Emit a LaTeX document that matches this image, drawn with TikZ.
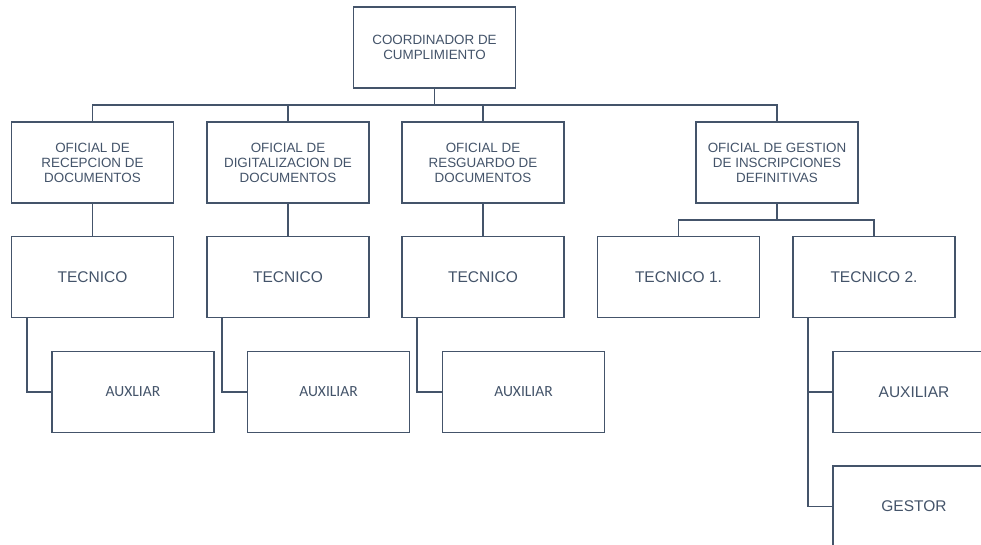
\documentclass[tikz,border=0pt]{standalone}
\usepackage{fontspec}
\setmainfont{Liberation Sans}
\newfontfamily\carlito{Carlito}
\definecolor{orgline}{HTML}{44546A}
\tikzset{
  orgbox/.style={draw=orgline, line width=1.6pt, fill=white, text=orgline,
    minimum width=162pt, minimum height=81pt, inner sep=0pt, align=center,
    font=\fontsize{15.5}{17}\selectfont},
  titlebox/.style={orgbox, font=\fontsize{13.4}{15}\selectfont},
  auxbox/.style={orgbox, font=\carlito\fontsize{15.5}{17}\selectfont},
  link/.style={draw=orgline, line width=1.6pt}
}
\begin{document}
\begin{tikzpicture}[x=1pt, y=-1pt]
	\useasboundingbox (0,0) rectangle (981,544);
	\clip (0,0) rectangle (981,544);
	\node[titlebox] (coord) at (434.5,47.5) {COORDINADOR DE\\CUMPLIMIENTO};
	\node[titlebox] (ofi1) at (92.5,162.5) {OFICIAL DE\\RECEPCION DE\\DOCUMENTOS};
	\node[titlebox] (ofi2) at (288,162.5) {OFICIAL DE\\DIGITALIZACION DE\\DOCUMENTOS};
	\node[titlebox] (ofi3) at (483,162.5) {OFICIAL DE\\RESGUARDO DE\\DOCUMENTOS};
	\node[titlebox] (ofi4) at (777,162.5) {OFICIAL DE GESTION\\DE INSCRIPCIONES\\DEFINITIVAS};
	\node[orgbox] (tec1) at (92.5,277) {TECNICO};
	\node[orgbox] (tec2) at (288,277) {TECNICO};
	\node[orgbox] (tec3) at (483,277) {TECNICO};
	\node[orgbox] (tec4a) at (678.5,277) {TECNICO 1.};
	\node[orgbox] (tec4b) at (874,277) {TECNICO 2.};
	\node[auxbox] (aux1) at (133,392) {AUXLIAR};
	\node[auxbox] (aux2) at (328.5,392) {AUXILIAR};
	\node[auxbox] (aux3) at (523.5,392) {AUXILIAR};
	\node[orgbox] (aux4) at (914,392) {AUXILIAR};
	\node[orgbox] (gestor) at (914,506.5) {GESTOR};
	% bus lines
	\coordinate (bus) at (0,105);
	\coordinate (subbus) at (0,220);
	\foreach \n in {ofi1,ofi2,ofi3,ofi4}
		\draw[link] (coord.south) |- (bus -| \n.north) -- (\n.north);
	\foreach \n in {tec4a,tec4b}
		\draw[link] (ofi4.south) |- (subbus -| \n.north) -- (\n.north);
	\foreach \i in {1,2,3} {
		\draw[link] (ofi\i) -- (tec\i);
		\draw[link] ([xshift=16pt]tec\i.south west) |- (aux\i.west);
	}
	\draw[link] ([xshift=16pt]tec4b.south west) |- (aux4.west);
	\draw[link] ([xshift=16pt]tec4b.south west) |- (gestor.west);
\end{tikzpicture}
\end{document}
